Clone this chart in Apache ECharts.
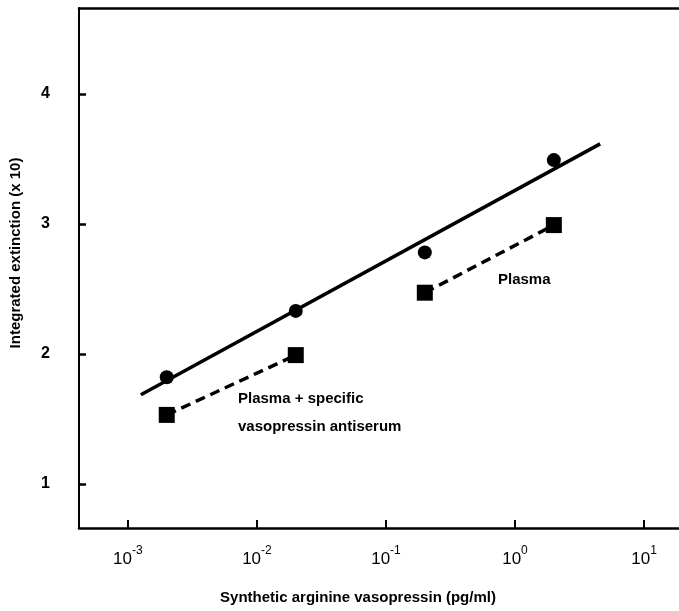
<!DOCTYPE html>
<html>
<head>
<meta charset="utf-8">
<script src="https://cdn.jsdelivr.net/npm/echarts@6/dist/echarts.min.js"></script>
<style>
  html, body { margin: 0; padding: 0; background: #fff; }
  #chart { width: 679px; height: 611px; }
</style>
</head>
<body>
<div id="chart"></div>
<script>
// concentrations (pg/ml)
const doses = [0.002, 0.02, 0.2, 2];
// integrated extinction (x 10)
const circleValues = [1.82, 2.33, 2.78, 3.49];
const squareValues = [1.53, 1.99, 2.47, 2.99];
// fitted regression line end points
const fitX = [0.00126, 4.57];
const fitY = [1.685, 3.615];
// dashed segments: pairs of indices into doses
const dashedPairs = [[0, 1], [2, 3]];
const xTicks = [0.001, 0.01, 0.1, 1, 10];
const yTicks = [1, 2, 3, 4];

const chart = echarts.init(document.getElementById('chart'));
const font = '"Liberation Sans", Arial, sans-serif';

const dashedSeries = dashedPairs.map(p => ({
  type: 'line',
  data: p.map(i => [doses[i], squareValues[i]]),
  symbol: 'none',
  lineStyle: { color: '#000', width: 3.5, type: [10, 6] },
  silent: true
}));

const option = {
  animation: false,
  grid: { left: 78, right: 0, top: 8, bottom: 83, containLabel: false },
  xAxis: [{
    type: 'log',
    logBase: 10,
    min: Math.pow(10, -3.379),
    max: Math.pow(10, 1.271),
    name: 'Synthetic arginine vasopressin (pg/ml)',
    nameLocation: 'middle',
    nameGap: 62,
    nameTextStyle: { fontFamily: font, fontWeight: 'bold', fontSize: 15, color: '#000', padding: [0, 42, 0, 0] },
    axisLine: { lineStyle: { color: '#000', width: 2.5 } },
    axisTick: { inside: true, length: 8, lineStyle: { color: '#000', width: 2 }, customValues: xTicks },
    axisLabel: {
      customValues: xTicks,
      margin: 17,
      formatter: v => '{b|10}{s|' + Math.round(Math.log10(v)) + '}',
      rich: {
        b: { fontFamily: font, fontSize: 17, color: '#000', verticalAlign: 'bottom' },
        s: { fontFamily: font, fontSize: 12, color: '#000', verticalAlign: 'top', padding: [0, 0, 11, 0] }
      }
    },
    splitLine: { show: false },
    minorTick: { show: false }
  }, {
    type: 'value',
    position: 'top',
    min: 0, max: 1,
    axisLine: { show: true, lineStyle: { color: '#000', width: 2.5 } },
    axisTick: { show: false },
    axisLabel: { show: false },
    splitLine: { show: false }
  }],
  yAxis: {
    type: 'value',
    min: 0.66,
    max: 4.66,
    name: 'Integrated extinction (x 10)',
    nameLocation: 'middle',
    nameGap: 56,
    nameTextStyle: { fontFamily: font, fontWeight: 'bold', fontSize: 15, color: '#000', padding: [0, 0, 0, 30] },
    axisLine: { show: true, lineStyle: { color: '#000', width: 2 } },
    axisTick: { inside: true, length: 7, lineStyle: { color: '#000', width: 2.5 }, customValues: yTicks },
    axisLabel: { customValues: yTicks, margin: 29, fontFamily: font, fontWeight: 'bold', fontSize: 16, color: '#000' },
    splitLine: { show: false }
  },
  series: [
    {
      type: 'line',
      data: fitX.map((x, i) => [x, fitY[i]]),
      symbol: 'none',
      lineStyle: { color: '#000', width: 3.5 },
      silent: true
    },
    ...dashedSeries,
    {
      type: 'scatter',
      data: doses.map((d, i) => [d, circleValues[i]]),
      symbol: 'circle',
      symbolSize: 14,
      itemStyle: { color: '#000', opacity: 1 }
    },
    {
      type: 'scatter',
      data: doses.map((d, i) => [d, squareValues[i]]),
      symbol: 'rect',
      symbolSize: 16,
      itemStyle: { color: '#000', opacity: 1 }
    }
  ],
  graphic: [
    { type: 'text', left: 498, top: 272, style: { text: 'Plasma', font: 'bold 15px ' + font, fill: '#000' } },
    { type: 'text', left: 238, top: 391, style: { text: 'Plasma + specific', font: 'bold 15px ' + font, fill: '#000' } },
    { type: 'text', left: 238, top: 419, style: { text: 'vasopressin antiserum', font: 'bold 15px ' + font, fill: '#000' } }
  ]
};

chart.setOption(option);
</script>
</body>
</html>
